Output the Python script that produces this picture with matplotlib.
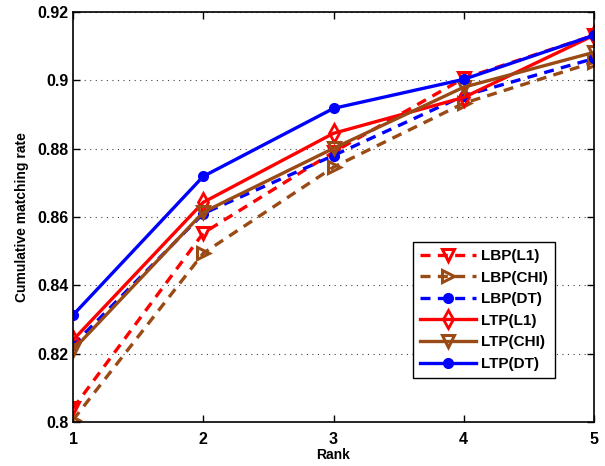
import numpy as np
import matplotlib
matplotlib.use("Agg")
import matplotlib.pyplot as plt

plt.rcParams['font.family'] = ['Liberation Sans', 'DejaVu Sans']
plt.rcParams['font.weight'] = 'bold'

# 数据
rank = [1, 2, 3, 4, 5]
lbp_l1 = [0.8040, 0.8553, 0.8790, 0.9006, 0.9132]
lbp_chi = [0.8006, 0.8494, 0.8746, 0.8933, 0.9053]
lbp_dt = [0.8225, 0.8610, 0.8780, 0.8955, 0.9064]
ltp_l1 = [0.8240, 0.8643, 0.8845, 0.8950, 0.9132]
ltp_chi = [0.8211, 0.8614, 0.8801, 0.8980, 0.9082]
ltp_dt = [0.8313, 0.8719, 0.8918, 0.9003, 0.9132]
yticks = [0.8, 0.82, 0.84, 0.86, 0.88, 0.9, 0.92]
ytick_labels = ["0.8", "0.82", "0.84", "0.86", "0.88", "0.9", "0.92"]

red = "#ff0000"
brown = "#9a4a14"
blue = "#0000ff"

fig = plt.figure(figsize=(6.05, 4.66), dpi=100)
ax = fig.add_axes([0.1207, 0.0944, 0.8611, 0.8798])

lw = 2.4
ax.plot(rank, lbp_l1, "--", color=red, lw=lw, marker="v", ms=9,
        mfc="none", mec=red, mew=2.2, dashes=(3, 2.2), label="LBP(L1)")
ax.plot(rank, lbp_chi, "--", color=brown, lw=lw, marker=">", ms=9,
        mfc="none", mec=brown, mew=2.2, dashes=(3, 2.2), label="LBP(CHI)")
ax.plot(rank, lbp_dt, "--", color=blue, lw=lw, marker="o", ms=7,
        mfc=blue, mec=blue, dashes=(3, 2.2), label="LBP(DT)")
ax.plot(rank, ltp_l1, "-", color=red, lw=lw, marker="d", ms=9,
        mfc="none", mec=red, mew=2, label="LTP(L1)")
ax.plot(rank, ltp_chi, "-", color=brown, lw=lw, marker="v", ms=9,
        mfc="none", mec=brown, mew=2.2, label="LTP(CHI)")
ax.plot(rank, ltp_dt, "-", color=blue, lw=lw, marker="o", ms=7,
        mfc=blue, mec=blue, label="LTP(DT)")

ax.set_xlim(1, 5)
ax.set_ylim(0.8, 0.92)
ax.set_xticks(rank)
ax.set_yticks(yticks)
ax.set_yticklabels(ytick_labels)
ax.tick_params(direction="in", top=True, right=True, labelsize=11.5,
               length=5, width=1)
ax.tick_params(axis="x", pad=7)
ax.yaxis.grid(True, linestyle=(0, (1, 4)), color="#444444", lw=0.8)
for sp in ax.spines.values():
    sp.set_linewidth(1.2)

ax.set_xlabel("Rank", fontsize=10, fontweight="bold", labelpad=1)
ax.set_ylabel("Cumulative matching rate", fontsize=10, fontweight="bold", labelpad=6)

leg = ax.legend(loc="upper left", bbox_to_anchor=(0.6526, 0.439), fontsize=11,
                handlelength=3.7, handletextpad=0.3, borderpad=0.45,
                labelspacing=0.5, fancybox=False, framealpha=1,
                edgecolor="black", borderaxespad=0)
leg.get_frame().set_linewidth(1.0)
for t in leg.get_texts():
    t.set_fontweight("bold")

fig.savefig("out.png", dpi=100)
